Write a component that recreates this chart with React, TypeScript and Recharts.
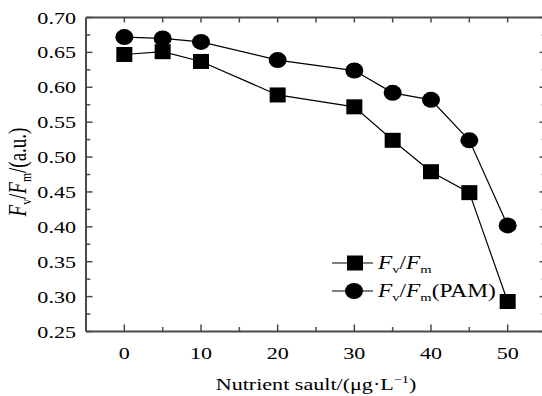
import React from 'react';
import { LineChart, Line, XAxis, YAxis, Legend } from 'recharts';

// Nutrient concentration (µg·L⁻¹)
const nutrient = [0, 5, 10, 20, 30, 35, 40, 45, 50];
// Fv/Fm measured directly
const fvFm = [0.647, 0.651, 0.637, 0.589, 0.572, 0.524, 0.479, 0.449, 0.293];
// Fv/Fm measured with PAM
const fvFmPam = [0.672, 0.67, 0.665, 0.639, 0.624, 0.592, 0.582, 0.524, 0.402];

const xTicks = [0, 5, 10, 15, 20, 25, 30, 35, 40, 45, 50];
const xLabelled = [0, 10, 20, 30, 40, 50];
const yTicks = [0.25, 0.275, 0.3, 0.325, 0.35, 0.375, 0.4, 0.425, 0.45, 0.475, 0.5, 0.525, 0.55, 0.575, 0.6, 0.625, 0.65, 0.675, 0.7];
const yLabels = ['0.25', '0.30', '0.35', '0.40', '0.45', '0.50', '0.55', '0.60', '0.65', '0.70'];

const rows = nutrient.map((x, i) => ({ x, a: fvFm[i], b: fvFmPam[i] }));

const FONT = '"Liberation Serif", "Times New Roman", Times, serif';
const AXIS = '#4a4a4a';
const SX = 1.3; // horizontal glyph stretch

const isMajorY = (v: number) => yLabels.includes(v.toFixed(2));

const St = ({ x, y, anchor = 'start', size = 17, children, rotate = 0 }: any) => (
  <text
    transform={`translate(${x},${y}) scale(${SX},1)${rotate ? ` rotate(${rotate})` : ''}`}
    textAnchor={anchor}
    fontFamily={FONT}
    fontSize={size}
    fill="#000"
  >
    {children}
  </text>
);

const BottomTick = (p: any) => {
  const v = p.payload.value;
  const major = xLabelled.includes(v);
  return (
    <g>
      <line x1={p.x} x2={p.x} y1={p.y} y2={p.y - (major ? 7 : 4.5)} stroke={AXIS} strokeWidth={1.5} />
      {major && <St x={p.x} y={p.y + 27} anchor="middle">{String(v)}</St>}
    </g>
  );
};

const TopTick = (p: any) => (
  <line x1={p.x} x2={p.x} y1={p.y} y2={p.y + 5} stroke={AXIS} strokeWidth={1.5} />
);

const LeftTick = (p: any) => {
  const v = p.payload.value;
  const major = isMajorY(v);
  return (
    <g>
      <line x1={p.x} x2={p.x + (major ? 6.5 : 4.3)} y1={p.y} y2={p.y} stroke={AXIS} strokeWidth={1.5} />
      {major && <St x={p.x - 10} y={p.y + 6} anchor="end">{v.toFixed(2)}</St>}
    </g>
  );
};

const RightTick = (p: any) => {
  const major = isMajorY(p.payload.value);
  return <line x1={p.x} x2={p.x - (major ? 6.5 : 4.3)} y1={p.y} y2={p.y} stroke={AXIS} strokeWidth={1.5} />;
};

const SquareDot = (p: any) => (
  <rect key={`s${p.index}`} x={p.cx - 8} y={p.cy - 7.5} width={16} height={15} fill="#000" />
);
const RoundDot = (p: any) => (
  <ellipse key={`c${p.index}`} cx={p.cx} cy={p.cy} rx={9} ry={8} fill="#000" />
);

// "Fv/Fm" with italic F and lowered subscripts, followed by an optional suffix
const fvFmSpans = (size: number, suffix: string) => [
  <tspan key="f1" fontStyle="italic">F</tspan>,
  <tspan key="v" fontSize={size * 0.62} dy={4}>v</tspan>,
  <tspan key="sl" dy={-4}>/</tspan>,
  <tspan key="f2" fontStyle="italic">F</tspan>,
  <tspan key="m" fontSize={size * 0.62} dy={4}>m</tspan>,
  suffix ? <tspan key="sx" dy={-4}>{suffix}</tspan> : null,
];

const LegendBox = () => (
  <svg width={215} height={60} style={{ display: 'block' }}>
    <line x1={7} x2={48} y1={14} y2={14} stroke="#000" strokeWidth={1.2} />
    <rect x={22} y={6.5} width={16} height={15} fill="#000" />
    <St x={53} y={20} size={18}>{fvFmSpans(18, '')}</St>
    <line x1={7} x2={48} y1={42} y2={42} stroke="#000" strokeWidth={1.2} />
    <ellipse cx={29} cy={42} rx={9} ry={8} fill="#000" />
    <St x={53} y={48} size={18}>{fvFmSpans(18, '(PAM)')}</St>
  </svg>
);

export default function App() {
  return (
    <div style={{ width: 542, height: 396, overflow: 'hidden', background: '#fff' }}>
      <style>{'body{margin:0;overflow:hidden}'}</style>
      <LineChart width={560} height={396} data={rows} margin={{ top: 16.5, right: 13, bottom: 24.5, left: 6 }}>
        <XAxis
          dataKey="x"
          type="number"
          domain={[-5, 55]}
          ticks={xTicks}
          height={40}
          tickSize={0}
          tickMargin={0}
          tickLine={false}
          tick={BottomTick}
          axisLine={{ stroke: AXIS, strokeWidth: 2 }}
          interval={0}
        />
        <XAxis
          xAxisId="top"
          orientation="top"
          dataKey="x"
          type="number"
          domain={[-5, 55]}
          ticks={xTicks}
          height={1}
          tickSize={0}
          tickMargin={0}
          tickLine={false}
          tick={TopTick}
          axisLine={{ stroke: AXIS, strokeWidth: 2 }}
          interval={0}
        />
        <YAxis
          type="number"
          domain={[0.25, 0.7]}
          ticks={yTicks}
          width={80}
          tickSize={0}
          tickMargin={0}
          tickLine={false}
          tick={LeftTick}
          axisLine={{ stroke: AXIS, strokeWidth: 2 }}
          interval={0}
          allowDataOverflow
        />
        <YAxis
          yAxisId="right"
          orientation="right"
          type="number"
          domain={[0.25, 0.7]}
          ticks={yTicks}
          width={1}
          tickSize={0}
          tickMargin={0}
          tickLine={false}
          tick={RightTick}
          axisLine={{ stroke: AXIS, strokeWidth: 2 }}
          interval={0}
          allowDataOverflow
        />
        <Line dataKey="a" type="linear" stroke="#000" strokeWidth={1.2} dot={SquareDot} isAnimationActive={false} />
        <Line dataKey="b" type="linear" stroke="#000" strokeWidth={1.2} dot={RoundDot} isAnimationActive={false} />
        <Legend
          layout="vertical"
          align="center"
          verticalAlign="middle"
          content={LegendBox}
          wrapperStyle={{ position: 'absolute', left: 325, top: 249, width: 215, height: 60 }}
        />
        <St x={316} y={390} anchor="middle">
          Nutrient sault/(μg·L<tspan fontSize={11} dy={-7}>−1</tspan>
          <tspan dy={7}>)</tspan>
        </St>
        <St x={26} y={172} anchor="middle" size={19} rotate={-90}>
          {fvFmSpans(19, '/(a.u.)')}
        </St>
      </LineChart>
    </div>
  );
}
